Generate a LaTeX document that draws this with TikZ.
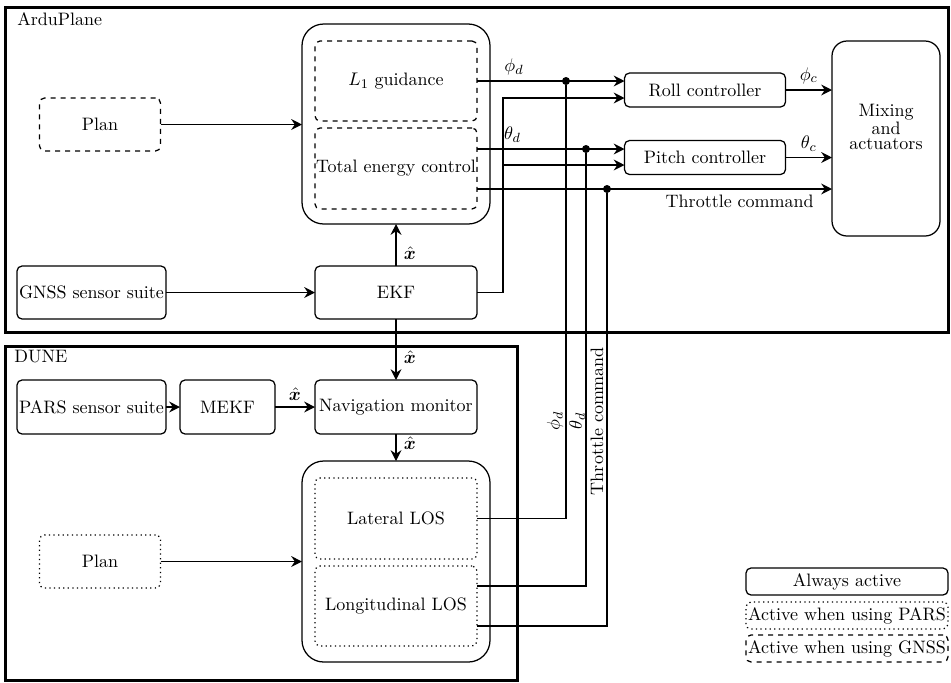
\documentclass[tikz,border=0pt]{standalone}
\usepackage{amsmath,amssymb}
\usepackage{bm}
\usepackage{tikz}
\usetikzlibrary{arrows.meta}

\begin{document}
\begin{tikzpicture}[x=0.6pt, y=-0.6pt, >={Stealth[length=6.5pt,width=6.5pt,inset=2.2pt]},
    font=\fontsize{10.8}{11}\selectfont,
    block/.style={draw, line width=0.75pt, rounded corners=3pt, inner sep=0pt, outer sep=0pt, align=center},
    gnss/.style={block, dashed},
    pars/.style={block, dotted},
    group/.style={draw, line width=1.8pt},
    wire/.style={line width=0.8pt},
    junction/.style={circle, fill, inner sep=0pt, minimum size=4.8pt}]

    \useasboundingbox (0,0) rectangle (951,682);

    % ArduPlane frame
    \draw[group] (5,7) rectangle (948,332);
    \node[anchor=north west, inner sep=0pt] (arduLabel) at (17,12) {ArduPlane};

    % DUNE frame
    \draw[group] (5,346) rectangle (517,680);
    \node[anchor=north west, inner sep=0pt] (duneLabel) at (14,350) {DUNE};

    % Guidance and energy control
    \node[block, rounded corners=13pt, minimum width=112.8pt, minimum height=120pt] (guide) at (396,124) {};
    \node[gnss, minimum width=97.2pt, minimum height=48pt] (l1) at (396,81) {$L_1$ guidance};
    \node[gnss, minimum width=97.2pt, minimum height=48.6pt] (tec) at (396,168.5) {Total energy control};
    \node[gnss, minimum width=72.6pt, minimum height=31.8pt] (planA) at (100,124.5) {Plan};

    % Estimation
    \node[block, minimum width=89.4pt, minimum height=31.8pt] (gnssSuite) at (91.5,292.5) {GNSS sensor suite};
    \node[block, minimum width=97.2pt, minimum height=31.8pt] (ekf) at (396,292.5) {EKF};

    % Inner loops
    \node[block, minimum width=96.6pt, minimum height=20.4pt] (roll) at (705,90) {Roll controller};
    \node[block, minimum width=96.6pt, minimum height=20.4pt] (pitch) at (705,157.5) {Pitch controller};
    \node[block, rounded corners=9pt, minimum width=64.8pt, minimum height=117pt] (mix) at (886,138.5) {};
    \node[align=center, inner sep=0pt, font=\fontsize{10.8}{9.4}\selectfont] (mixText) at (886,127) {Mixing\\and\\actuators};

    % DUNE blocks
    \node[block, minimum width=89.4pt, minimum height=32.4pt] (parsSuite) at (91.5,407) {PARS sensor suite};
    \node[block, minimum width=57pt, minimum height=32.4pt] (mekf) at (227.5,407) {MEKF};
    \node[block, minimum width=97.2pt, minimum height=32.4pt] (nav) at (396,407) {Navigation monitor};
    \node[block, rounded corners=13pt, minimum width=112.8pt, minimum height=120.6pt] (los) at (396,561.5) {};
    \node[pars, minimum width=97.2pt, minimum height=48.6pt] (lat) at (396,518.5) {Lateral LOS};
    \node[pars, minimum width=97.2pt, minimum height=48pt] (lon) at (396,606) {Longitudinal LOS};
    \node[pars, minimum width=72.6pt, minimum height=31.8pt] (planD) at (100,561.5) {Plan};

    % Legend
    \node[block, minimum width=121.2pt, minimum height=16.2pt] (legAlways) at (847,581.5) {Always active};
    \node[pars, minimum width=121.2pt, minimum height=16.2pt] (legPars) at (847,615.5) {Active when using PARS};
    \node[gnss, minimum width=121.2pt, minimum height=16.2pt] (legGnss) at (847,648.5) {Active when using GNSS};

    % Junctions on the setpoint lines
    \coordinate (ekfBus) at (503,98);
    \coordinate (ekfTap) at (503,165);
    \node[junction] (phiDot) at (566,81) {};
    \node[junction] (thetaDot) at (586,149) {};
    \node[junction] (thrDot) at (607,189) {};

    % State estimate flow
    \draw[wire, ->] (planA) -- (guide.west |- planA);
    \draw[wire, ->] (gnssSuite) -- (ekf);
    \draw[wire, ->] (ekf) -- (guide) node[pos=0.3, right=1pt] {$\hat{\bm{x}}$};
    \draw[wire, ->] (ekf) -- (nav) node[pos=0.62, right=1pt] {$\hat{\bm{x}}$};
    \draw[wire, ->] (parsSuite) -- (mekf);
    \draw[wire, ->] (mekf) -- (nav) node[midway, above] {$\hat{\bm{x}}$};
    \draw[wire, ->] (nav) -- (los) node[pos=0.35, right=1pt] {$\hat{\bm{x}}$};
    \draw[wire, ->] (planD) -- (los.west |- planD);

    % EKF to the controllers
    \draw[wire, ->] (ekf.east) -| (ekfBus) -- (roll.west |- ekfBus);
    \draw[wire, ->] (ekfTap) -- (pitch.west |- ekfTap);

    % Setpoints
    \draw[wire, ->] (l1.east) -- (roll.west |- l1.east) node[pos=0.25, above] {$\phi_d$};
    \draw[wire, ->] (tec.east |- thetaDot) -- (pitch.west |- thetaDot) node[pos=0.24, above] {$\theta_d$};
    \draw[wire, ->] (tec.east |- thrDot) -- (mix.west |- thrDot) node[pos=0.74, below] {Throttle command};
    \draw[wire, ->] (roll) -- (mix.west |- roll) node[midway, above] {$\phi_c$};
    \draw[wire, ->] (pitch) -- (mix.west |- pitch) node[midway, above] {$\theta_c$};

    % Setpoints from DUNE
    \draw[wire] (phiDot) |- (lat.east);
    \draw[wire] (thetaDot) |- ([yshift=12pt]lon.east);
    \draw[wire] (thrDot) |- ([yshift=-12pt]lon.east);
    \node[rotate=90, inner sep=0pt] (phiVert) at (555,421) {$\phi_d$};
    \node[rotate=90, inner sep=0pt] (thetaVert) at (577,421) {$\theta_d$};
    \node[rotate=90, inner sep=0pt] (thrVert) at (597,421) {Throttle command};
\end{tikzpicture}
\end{document}
